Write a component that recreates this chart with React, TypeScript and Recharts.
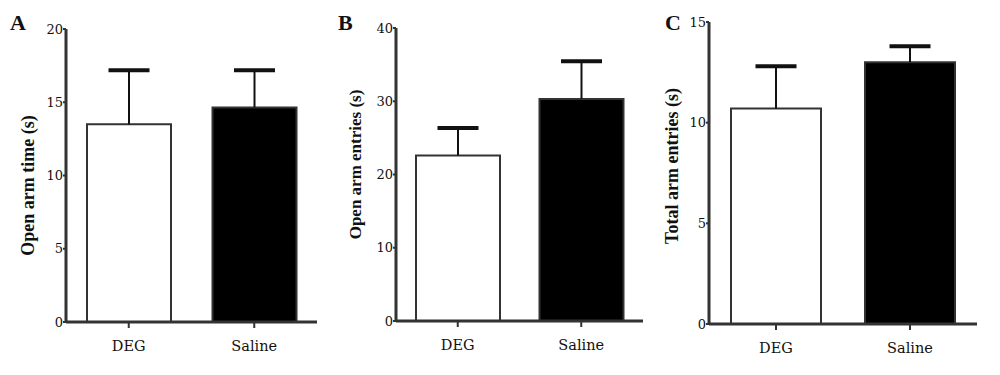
import { BarChart, Bar, XAxis, YAxis, Cell, Label } from 'recharts';

// groups on the x axis
const categories = ['DEG', 'Saline'];
const barFills = ['#ffffff', '#000000'];

// A: open arm time
const openArmTime = [13.5, 14.65];
const openArmTimeErr = [3.75, 2.6];
const openArmTimeTicks = [0, 5, 10, 15, 20];

// B: open arm entries
const openArmEntries = [22.6, 30.3];
const openArmEntriesErr = [3.9, 5.3];
const openArmEntriesTicks = [0, 10, 20, 30, 40];

// C: total arm entries
const totalArmEntries = [10.7, 13.0];
const totalArmEntriesErr = [2.15, 0.85];
const totalArmEntriesTicks = [0, 5, 10, 15];

const FONT = '"Liberation Serif", "Times New Roman", serif';
const TICK_FONT = '"DejaVu Serif", serif';
const AXIS = '#333';

const ErrorShape = (props: any) => {
  const { x, y, width, height } = props;
  if (height == null || isNaN(height)) return null;
  const cx = x + width / 2;
  return (
    <g>
      <line x1={cx} x2={cx} y1={y} y2={y + height} stroke="#111" strokeWidth={2} />
      <line x1={cx - 20.5} x2={cx + 20.5} y1={y + 1} y2={y + 1} stroke="#111" strokeWidth={4} />
    </g>
  );
};

const AxisTitle = ({ viewBox, text, dx, dy, size }: any) => {
  const tx = viewBox.x + dx;
  const ty = viewBox.y + viewBox.height / 2 + dy;
  return (
    <text
      x={tx}
      y={ty}
      transform={`rotate(-90 ${tx} ${ty})`}
      textAnchor="middle"
      dominantBaseline="central"
      fontFamily={FONT}
      fontWeight="bold"
      fontSize={size}
      fill="#111"
    >
      {text}
    </text>
  );
};

interface PanelProps {
  letter: string;
  title: string;
  values: number[];
  errors: number[];
  ticks: number[];
  left: number;
  width: number;
  top: number;
  right: number;
  axisWidth: number;
  xAxisHeight: number;
  barSize: number;
  titleDx: number;
  titleDy: number;
  titleSize: number;
  letterLeft: number;
}

function Panel(p: PanelProps) {
  const data = categories.map((name, i) => ({ name, value: p.values[i], err: p.errors[i] }));
  const max = p.ticks[p.ticks.length - 1];
  return (
    <>
      <div
        style={{
          position: 'absolute',
          left: p.letterLeft,
          top: 12,
          fontFamily: FONT,
          fontWeight: 'bold',
          fontSize: 22,
          lineHeight: 1,
          color: '#111',
        }}
      >
        {p.letter}
      </div>
      <div style={{ position: 'absolute', left: p.left, top: 0 }}>
        <BarChart
          width={p.width}
          height={375}
          data={data}
          barSize={p.barSize}
          margin={{ top: p.top, right: p.right, bottom: 0, left: 0 }}
        >
          <XAxis
            dataKey="name"
            height={p.xAxisHeight}
            axisLine={{ stroke: AXIS, strokeWidth: 3 }}
            tickLine={{ stroke: AXIS, strokeWidth: 2 }}
            tickSize={6}
            tickMargin={13}
            tick={{ fill: '#111', fontSize: 14.5, fontFamily: TICK_FONT }}
          />
          <YAxis
            width={p.axisWidth}
            domain={[0, max]}
            ticks={p.ticks}
            interval={0}
            axisLine={{ stroke: AXIS, strokeWidth: 3 }}
            tickLine={{ stroke: AXIS, strokeWidth: 2 }}
            tickSize={3}
            tickMargin={0}
            tick={{ fill: '#111', fontSize: 13, fontFamily: TICK_FONT }}
          >
            <Label
              content={(lp: any) => (
                <AxisTitle viewBox={lp.viewBox} text={p.title} dx={p.titleDx} dy={p.titleDy} size={p.titleSize} />
              )}
            />
          </YAxis>
          <Bar dataKey="value" stackId="s" stroke={AXIS} strokeWidth={2} isAnimationActive={false}>
            {data.map((d, i) => (
              <Cell key={d.name} fill={barFills[i]} />
            ))}
          </Bar>
          <Bar dataKey="err" stackId="s" shape={<ErrorShape />} isAnimationActive={false} />
        </BarChart>
      </div>
    </>
  );
}

export default function App() {
  return (
    <div style={{ position: 'absolute', left: 0, top: 0, width: 1000, height: 375, background: '#fff', overflow: 'hidden' }}>
      <Panel
        letter="A"
        title="Open arm time (s)"
        values={openArmTime}
        errors={openArmTimeErr}
        ticks={openArmTimeTicks}
        left={0}
        width={340}
        top={29}
        right={23}
        axisWidth={66}
        xAxisHeight={53}
        barSize={84}
        titleDx={28}
        titleDy={10}
        titleSize={18}
        letterLeft={10}
      />
      <Panel
        letter="B"
        title="Open arm entries (s)"
        values={openArmEntries}
        errors={openArmEntriesErr}
        ticks={openArmEntriesTicks}
        left={330}
        width={330}
        top={28}
        right={17}
        axisWidth={66}
        xAxisHeight={54}
        barSize={84}
        titleDx={25}
        titleDy={-10}
        titleSize={17}
        letterLeft={338}
      />
      <Panel
        letter="C"
        title="Total arm entries (s)"
        values={totalArmEntries}
        errors={totalArmEntriesErr}
        ticks={totalArmEntriesTicks}
        left={660}
        width={340}
        top={22}
        right={23}
        axisWidth={49}
        xAxisHeight={51}
        barSize={90}
        titleDx={12}
        titleDy={-7}
        titleSize={18}
        letterLeft={665}
      />
    </div>
  );
}
